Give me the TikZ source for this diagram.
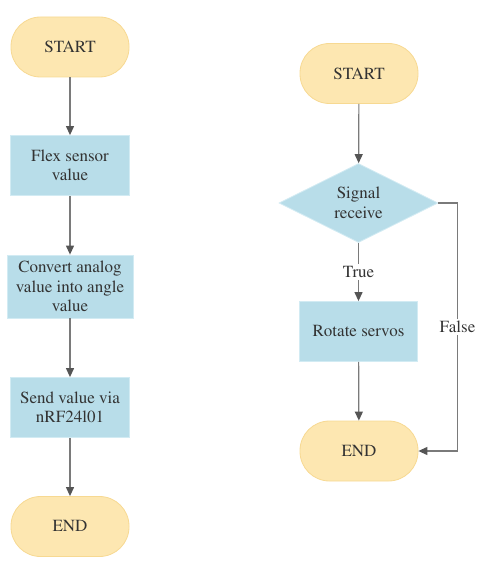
\documentclass[tikz,border=0pt]{standalone}
\usepackage[T1]{fontenc}
\usepackage{mathptmx}
\usepackage{xcolor}
\usepackage{tikz}
\usetikzlibrary{shapes,arrows.meta}
\definecolor{termfill}{HTML}{FDE7B1}
\definecolor{termline}{HTML}{F7D992}
\definecolor{boxfill}{HTML}{B8DDE9}
\definecolor{boxline}{HTML}{D2EBF3}
\definecolor{txt}{HTML}{333333}
\definecolor{conn}{HTML}{7A7A7A}
\definecolor{tipcol}{HTML}{555555}

\begin{document}
\begin{tikzpicture}[x=1pt, y=-1pt,
  terminal/.style={font=\fontsize{17}{19.5}\selectfont, text=txt, draw=termline, fill=termfill, line width=0.8, minimum width=118, minimum height=60, rounded corners=29.5, inner sep=0, align=center},
  procbox/.style={font=\fontsize{17}{19.5}\selectfont, text=txt, draw=boxline, fill=boxfill, line width=0.8, minimum width=119, minimum height=60, inner sep=0, align=center},
  decision/.style={diamond, aspect=2, font=\fontsize{17}{19.5}\selectfont, text=txt, draw=boxline, fill=boxfill, line width=0.8, minimum width=159, minimum height=79, inner sep=0, align=center},
  flow/.style={draw=conn, line width=1.2, -{Triangle[length=9pt, width=8pt, color=tipcol]}},
  lbl/.style={font=\fontsize{17}{19.5}\selectfont, text=txt, fill=white, inner sep=2}]
\useasboundingbox (0,0) rectangle (480,564);
% sender
\node[terminal] (start1) at (70,47) {START};
\node[procbox] (flex) at (70,165.5) {Flex sensor\\value};
\node[procbox, minimum width=126, minimum height=63] (convert) at (70,286.5) {Convert analog\\value into angle\\value};
\node[procbox] (send) at (70,407.5) {Send value via\\nRF24l01};
\node[terminal] (end1) at (70,526.5) {END};
\draw [flow] (start1) edge (flex);
\draw [flow] (flex) edge (convert);
\draw [flow] (convert) edge (send);
\draw [flow] (send) edge (end1);
% receiver
\node[terminal] (start2) at (359,73.5) {START};
\node[decision] (signal) at (358.5,203) {Signal\\receive};
\node[procbox, minimum width=118] (rotate) at (358.5,331.5) {Rotate servos};
\node[terminal] (end2) at (359,451) {END};
\coordinate (fcorner) at (457.5,203);
\draw [flow] (start2) edge (signal);
\draw [flow] (signal) edge node[lbl] {True} (rotate);
\draw [flow] (rotate) edge (end2);
\draw [flow] (signal.east) -- (fcorner) |- (end2.east) node[lbl, pos=0.25] {False};
\end{tikzpicture}
\end{document}
